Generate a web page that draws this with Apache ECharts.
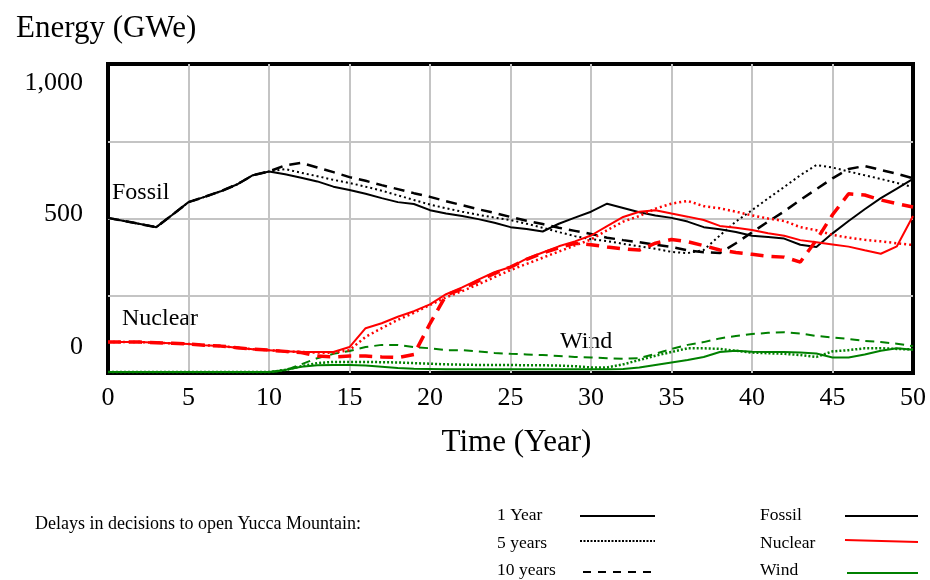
<!DOCTYPE html>
<html>
<head>
<meta charset="utf-8">
<script src="https://cdn.jsdelivr.net/npm/echarts@6/dist/echarts.min.js"></script>
<style>
html,body{margin:0;padding:0;background:#fff;}
#chart{width:930px;height:580px;}
</style>
</head>
<body>
<div id="chart"></div>
<script>
// ---- data ----
var years = [0,1,2,3,4,5,6,7,8,9,10,11,12,13,14,15,16,17,18,19,20,21,22,23,24,25,26,27,28,29,30,31,32,33,34,35,36,37,38,39,40,41,42,43,44,45,46,47,48,49,50];
var xTicks = [0,5,10,15,20,25,30,35,40,45,50];
var yTickLabels = {0:'0', 500:'500', 1000:'1,000'};

var fossil1 = [502,492,482,472,512,553,570,588,610,640,652, 643,632,620,603,592,580,566,553,547,527, 516,508,498,486,472,466,458,483,503,522, 548,534,520,510,502,490,472,465,456,444, 440,435,415,408,452,492,530,566,597,628];
var fossil5 = [502,492,482,472,512,553,570,588,610,640,652, 660,648,637,625,615,603,590,575,560,545, 533,522,512,503,495,483,470,456,443,433, 427,418,410,402,392,388,398,445,490,527, 565,602,640,673,665,652,640,628,615,602];
var fossil10 = [502,492,482,472,512,553,570,588,610,640,652, 672,680,665,650,634,622,608,595,582,570, 556,543,530,518,505,493,482,470,460,450, 438,430,423,415,408,397,391,388,420,455, 490,523,560,595,630,660,670,657,645,630];

var nuclear1 = [100,100,100,98,96,94,90,87,82,77,74, 70,68,68,68,84,145,161,182,200,222, 255,277,302,326,343,370,390,410,426,445, 475,505,522,527,516,506,495,476,470,463, 452,444,430,423,416,409,397,386,410,508];
var nuclear5 = [100,100,100,98,96,94,90,87,82,77,74, 70,68,66,65,74,117,145,172,195,220, 245,265,287,310,333,353,373,393,413,432, 462,490,508,532,548,557,540,533,522,510, 500,492,472,462,447,438,431,426,420,414];
var nuclear10 = [100,100,100,98,96,94,90,87,82,77,74, 70,66,55,52,55,55,52,50,60,160, 252,272,298,322,343,368,388,405,420,415, 408,402,398,420,432,425,412,398,390,384, 378,375,359,430,512,580,576,560,548,537];

var wind1 = [3,3,3,3,3,3,3,3,3,3,3, 10,20,25,26,26,24,20,16,14,13, 12,12,12,12,12,12,12,12,12,12, 12,13,18,26,34,42,52,68,72,69, 68,68,66,63,50,50,60,72,80,75];
var wind5 = [3,3,3,3,3,3,3,3,3,3,3, 10,22,32,36,36,36,35,34,32,30, 28,27,26,26,26,25,25,24,22,18, 18,28,42,56,68,80,80,78,72,66, 64,62,58,52,70,74,80,80,78,76];
var wind10 = [3,3,3,3,3,3,3,3,3,3,3, 8,28,48,62,71,84,91,91,84,80, 74,74,70,65,62,60,58,55,52,50, 48,46,48,62,78,91,100,112,120,126, 130,132,128,120,115,110,104,100,95,87];

// ---- chart ----
var FONT = '"Liberation Serif", "Times New Roman", serif';
function pts(arr){ return years.map(function(t,i){ return [t, arr[i]]; }); }
function line(name, arr, color, type, width){
  return { name:name, type:'line', data:pts(arr), symbol:'none', silent:true,
    lineStyle:{ color:color, width:width, type:type }, z:3 };
}
var RED = '#ff0000', GREEN = '#008000', BLACK = '#000000';

var chart = echarts.init(document.getElementById('chart'), null, {renderer:'canvas'});
chart.setOption({
  animation:false,
  backgroundColor:'#ffffff',
  title:{ text:'Energy (GWe)', left:11, top:8,
    textStyle:{ fontFamily:FONT, fontSize:31, fontWeight:'normal', color:'#000' } },
  grid:{ left:108, right:17, top:64, bottom:207, show:true, borderColor:'#000', borderWidth:4, backgroundColor:'transparent' },
  xAxis:{ type:'value', min:0, max:50, interval:5,
    name:'Time (Year)', nameLocation:'middle', nameGap:54,
    nameTextStyle:{ fontFamily:FONT, fontSize:31, color:'#000', padding:[0,0,0,12] },
    axisLine:{show:false}, axisTick:{show:false},
    axisLabel:{ margin:12, fontFamily:FONT, fontSize:26, color:'#000',
      formatter:function(v){ return xTicks.indexOf(v)>=0 ? String(v) : ''; } },
    splitLine:{ show:true, showMinLine:false, showMaxLine:false, lineStyle:{ color:'#c4c4c4', width:2 } } },
  yAxis:{ type:'value', min:0, max:1000, interval:250,
    axisLine:{show:false}, axisTick:{show:false},
    axisLabel:{ margin:25, fontFamily:FONT, fontSize:26, color:'#000',
      formatter:function(v){
        if(v===1000) return '{t|'+yTickLabels[1000]+'}';
        if(v===500) return '{m|'+yTickLabels[500]+'}';
        if(v===0) return '{b|'+yTickLabels[0]+'}';
        return '';
      },
      rich:{
        t:{ fontFamily:FONT, fontSize:26, color:'#000', padding:[38,0,0,0] },
        m:{ fontFamily:FONT, fontSize:26, color:'#000', padding:[0,0,8,0] },
        b:{ fontFamily:FONT, fontSize:26, color:'#000', padding:[0,0,52,0] }
      } },
    splitLine:{ show:true, showMinLine:false, showMaxLine:false, lineStyle:{ color:'#c4c4c4', width:2 } } },
  series:[
    line('Wind 10', wind10, GREEN, [9,6], 2),
    line('Wind 5', wind5, GREEN, [2,2], 2.5),
    line('Wind 1', wind1, GREEN, 'solid', 2),
    line('Fossil 10', fossil10, BLACK, [11,7], 2.5),
    line('Fossil 5', fossil5, BLACK, [2,3], 2),
    line('Fossil 1', fossil1, BLACK, 'solid', 2),
    line('Nuclear 10', nuclear10, RED, [13,8], 3.5),
    line('Nuclear 5', nuclear5, RED, [2,3], 2.5),
    line('Nuclear 1', nuclear1, RED, 'solid', 2)
  ],
  graphic:[
    { type:'text', left:112, top:181, style:{ text:'Fossil', fontFamily:FONT, fontSize:24, fill:'#000' } },
    { type:'text', left:122, top:307, style:{ text:'Nuclear', fontFamily:FONT, fontSize:24, fill:'#000' } },
    { type:'text', left:560, top:330, style:{ text:'Wind', fontFamily:FONT, fontSize:24, fill:'#000' } },

    { type:'text', left:35, top:515, style:{ text:'Delays in decisions to open Yucca Mountain:', fontFamily:FONT, fontSize:18, fill:'#000' } },
    { type:'text', left:497, top:506, style:{ text:'1 Year', fontFamily:FONT, fontSize:17.5, fill:'#000' } },
    { type:'text', left:497, top:534, style:{ text:'5 years', fontFamily:FONT, fontSize:17.5, fill:'#000' } },
    { type:'text', left:497, top:561, style:{ text:'10 years', fontFamily:FONT, fontSize:17.5, fill:'#000' } },
    { type:'line', shape:{x1:580,y1:516,x2:655,y2:516}, style:{ stroke:'#000', lineWidth:2 } },
    { type:'line', shape:{x1:580,y1:541,x2:655,y2:541}, style:{ stroke:'#000', lineWidth:2, lineDash:[2,1.5] } },
    { type:'line', shape:{x1:583,y1:572,x2:655,y2:572}, style:{ stroke:'#000', lineWidth:2, lineDash:[8,7] } },

    { type:'text', left:760, top:506, style:{ text:'Fossil', fontFamily:FONT, fontSize:17.5, fill:'#000' } },
    { type:'text', left:760, top:534, style:{ text:'Nuclear', fontFamily:FONT, fontSize:17.5, fill:'#000' } },
    { type:'text', left:760, top:561, style:{ text:'Wind', fontFamily:FONT, fontSize:17.5, fill:'#000' } },
    { type:'line', shape:{x1:845,y1:516,x2:918,y2:516}, style:{ stroke:'#000', lineWidth:2 } },
    { type:'line', shape:{x1:845,y1:540,x2:918,y2:542}, style:{ stroke:RED, lineWidth:2 } },
    { type:'line', shape:{x1:847,y1:573,x2:918,y2:573}, style:{ stroke:GREEN, lineWidth:2 } }
  ]
});
</script>
</body>
</html>
